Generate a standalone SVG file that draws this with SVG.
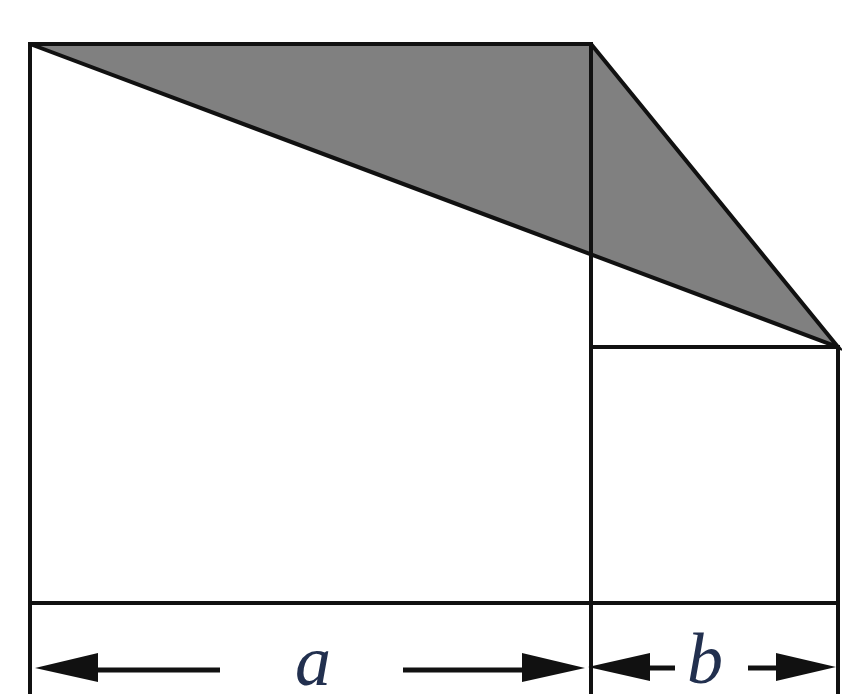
<svg xmlns="http://www.w3.org/2000/svg" width="842" height="694" viewBox="0 0 842 694">
<style>
.ln{stroke:#111;stroke-width:4;fill:none;stroke-linecap:square}
.sh{fill:#808080;stroke:#111;stroke-width:4;stroke-linejoin:miter}
.ar{stroke:#111;stroke-width:5;fill:none}
.hd{fill:#111}
.lb{font-family:"Liberation Serif","Times New Roman",serif;font-style:italic;font-size:72px;fill:#22304f}
</style>
<rect width="842" height="694" fill="#fff"/>
<g id="shaded-triangle">
<polygon class="sh" points="30,44 591,44 838,347"/>
</g>
<g id="large-square">
<line class="ln" x1="30" y1="44" x2="30" y2="694"/>
<line class="ln" x1="591" y1="44" x2="591" y2="694"/>
<line class="ln" x1="30" y1="603" x2="838" y2="603"/>
</g>
<g id="small-square">
<line class="ln" x1="591" y1="347" x2="838" y2="347"/>
<line class="ln" x1="838" y1="347" x2="838" y2="694"/>
</g>
<g id="connectors">
<line class="ar" x1="95" y1="670" x2="220" y2="670"/>
<polygon class="hd" points="35,668 98,653 98,682"/>
<line class="ar" x1="403" y1="670" x2="525" y2="670"/>
<polygon class="hd" points="585,668 522,653 522,682"/>
<line class="ar" x1="645" y1="668" x2="675" y2="668"/>
<polygon class="hd" points="588,667 650,653 650,681"/>
<line class="ar" x1="748" y1="668" x2="780" y2="668"/>
<polygon class="hd" points="836,667 776,653 776,681"/>
</g>
<g id="labels">
<text class="lb" x="313" y="685" text-anchor="middle">a</text>
<text class="lb" x="705" y="683" text-anchor="middle">b</text>
</g>
</svg>
